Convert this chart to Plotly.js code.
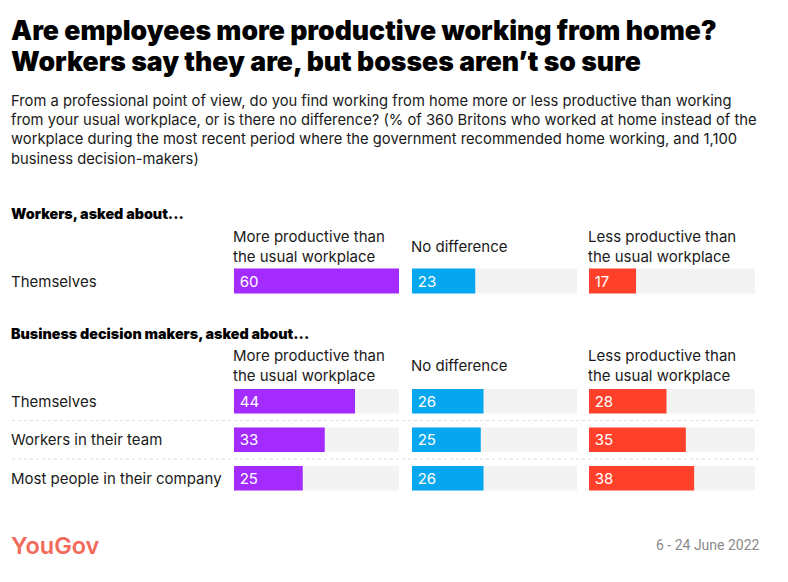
<!DOCTYPE html>
<html>
<head>
<meta charset="utf-8">
<script src="https://cdn.plot.ly/plotly-3.0.1.min.js"></script>
<style>html,body{margin:0;padding:0;background:#fff}#chart{width:788px;height:582px}</style>
</head>
<body>
<div id="chart"></div>
<script>
// ---- data ----
const columnHeaders = ["More productive than<br>the usual workplace", "No difference", "Less productive than<br>the usual workplace"];
const colors = ["#a32bff", "#06a7ee", "#ff412c"];

const workerRows = ["Themselves"];
const workerMore = [60];
const workerSame = [23];
const workerLess = [17];

const bossRows = ["Themselves", "Workers in their team", "Most people in their company"];
const bossMore = [44, 33, 25];
const bossSame = [26, 25, 26];
const bossLess = [28, 35, 38];

const titleLines = ["Are employees more productive working from home?", "Workers say they are, but bosses aren’t so sure"];

const scaleMax = 60;

// ---- layout helpers ----
const W = 788, H = 582;
const px = x => x / W;
const py = y => (H - y) / H;
const FONT = "Inter, Liberation Sans, Arial, sans-serif";

const xDomains = [[px(234), px(399)], [px(412), px(577)], [px(589), px(755)]];
const xKeys = ["x", "x2", "x3"];

const traces = [];
const shapes = [];
const annotations = [];

function addSection(rows, seriesList, yKey) {
  seriesList.forEach((vals, c) => {
    traces.push({
      type: "bar", orientation: "h",
      x: vals, y: rows,
      xaxis: xKeys[c], yaxis: yKey,
      marker: { color: colors[c] },
      width: 0.64,
      text: vals.map(v => "\u2009" + v),
      textposition: "inside",
      insidetextanchor: "start",
      textangle: 0,
      constraintext: "none",
      textfont: { color: "#ffffff", size: 15, family: FONT },
      hoverinfo: "skip",
      showlegend: false
    });
    rows.forEach((r, i) => {
      shapes.push({
        type: "rect", layer: "below",
        xref: xKeys[c] + " domain", x0: 0, x1: 1,
        yref: yKey, y0: i - 0.32, y1: i + 0.32,
        fillcolor: "#f3f3f3", line: { width: 0 }
      });
    });
  });
  rows.forEach((r, i) => {
    annotations.push({
      xref: "paper", x: px(9), xanchor: "left",
      yref: yKey, y: i, yanchor: "middle",
      text: r, showarrow: false,
      font: { family: FONT, size: 15, color: "#1a1a1a" }
    });
    if (i > 0) {
      shapes.push({
        type: "line", xref: "paper", x0: px(12), x1: px(758),
        yref: yKey, y0: i - 0.5, y1: i - 0.5,
        line: { color: "#dddddd", width: 1, dash: "dot" }
      });
    }
  });
}

addSection(workerRows, [workerMore, workerSame, workerLess], "y");
addSection(bossRows, [bossMore, bossSame, bossLess], "y2");

function colHeaders(yMid) {
  columnHeaders.forEach((t, c) => {
    annotations.push({
      xref: "paper", x: xDomains[c][0] - px(3), xanchor: "left", align: "left",
      yref: "paper", y: py(yMid), yanchor: "middle",
      text: t, showarrow: false,
      font: { family: FONT, size: 15, color: "#1a1a1a" }
    });
  });
}
colHeaders(246);
colHeaders(365);

// section headers
annotations.push({
  xref: "paper", x: px(9), xanchor: "left", yref: "paper", y: py(213), yanchor: "middle",
  text: "Workers, asked about...", showarrow: false,
  font: { family: FONT, size: 14.3, color: "#000", weight: 900 }
});
annotations.push({
  xref: "paper", x: px(9), xanchor: "left", yref: "paper", y: py(333), yanchor: "middle",
  text: "Business decision makers, asked about...", showarrow: false,
  font: { family: FONT, size: 14.3, color: "#000", weight: 900 }
});

// title (two lines)
titleLines.forEach((t, i) => {
  annotations.push({
    xref: "paper", x: px(9), xanchor: "left", align: "left",
    yref: "paper", y: py(30 + i * 31), yanchor: "middle",
    text: t, showarrow: false,
    font: { family: FONT, size: 26.6, color: "#000", weight: 900 }
  });
});

// subtitle
annotations.push({
  xref: "paper", x: px(9), xanchor: "left", align: "left",
  yref: "paper", y: py(90), yanchor: "top",
  text: "From a professional point of view, do you find working from home more or less productive than working<br>" +
        "from your usual workplace, or is there no difference? (% of 360 Britons who worked at home instead of the<br>" +
        "workplace during the most recent period where the government recommended home working, and 1,100<br>" +
        "business decision-makers)",
  showarrow: false,
  font: { family: FONT, size: 14.75, color: "#1a1a1a" }
});

// footer
annotations.push({
  xref: "paper", x: px(9), xanchor: "left", yref: "paper", y: py(545), yanchor: "middle",
  text: "YouGov", showarrow: false,
  font: { family: FONT, size: 23.5, color: "#f26a5a", weight: 600 }
});
annotations.push({
  xref: "paper", x: px(762), xanchor: "right", yref: "paper", y: py(545), yanchor: "middle",
  text: "6 - 24 June 2022", showarrow: false,
  font: { family: "Roboto, sans-serif", size: 14, color: "#8a8a8a" }
});

const hidden = { showgrid: false, zeroline: false, showticklabels: false, showline: false, ticks: "", fixedrange: true };

const layout = {
  width: W, height: H,
  margin: { l: 0, r: 0, t: 0, b: 0 },
  paper_bgcolor: "#fff", plot_bgcolor: "rgba(0,0,0,0)",
  barmode: "overlay",
  xaxis: Object.assign({ domain: xDomains[0], range: [0, scaleMax], anchor: "y" }, hidden),
  xaxis2: Object.assign({ domain: xDomains[1], range: [0, scaleMax], anchor: "y" }, hidden),
  xaxis3: Object.assign({ domain: xDomains[2], range: [0, scaleMax], anchor: "y" }, hidden),
  yaxis: Object.assign({ domain: [py(300.5), py(261.5)], type: "category", range: [0.5, -0.5], anchor: "x" }, hidden),
  yaxis2: Object.assign({ domain: [py(497.5), py(382)], type: "category", range: [2.5, -0.5], anchor: "x" }, hidden),
  shapes: shapes,
  annotations: annotations
};

Plotly.newPlot("chart", traces, layout, { displayModeBar: false, staticPlot: true });
</script>
</body>
</html>
